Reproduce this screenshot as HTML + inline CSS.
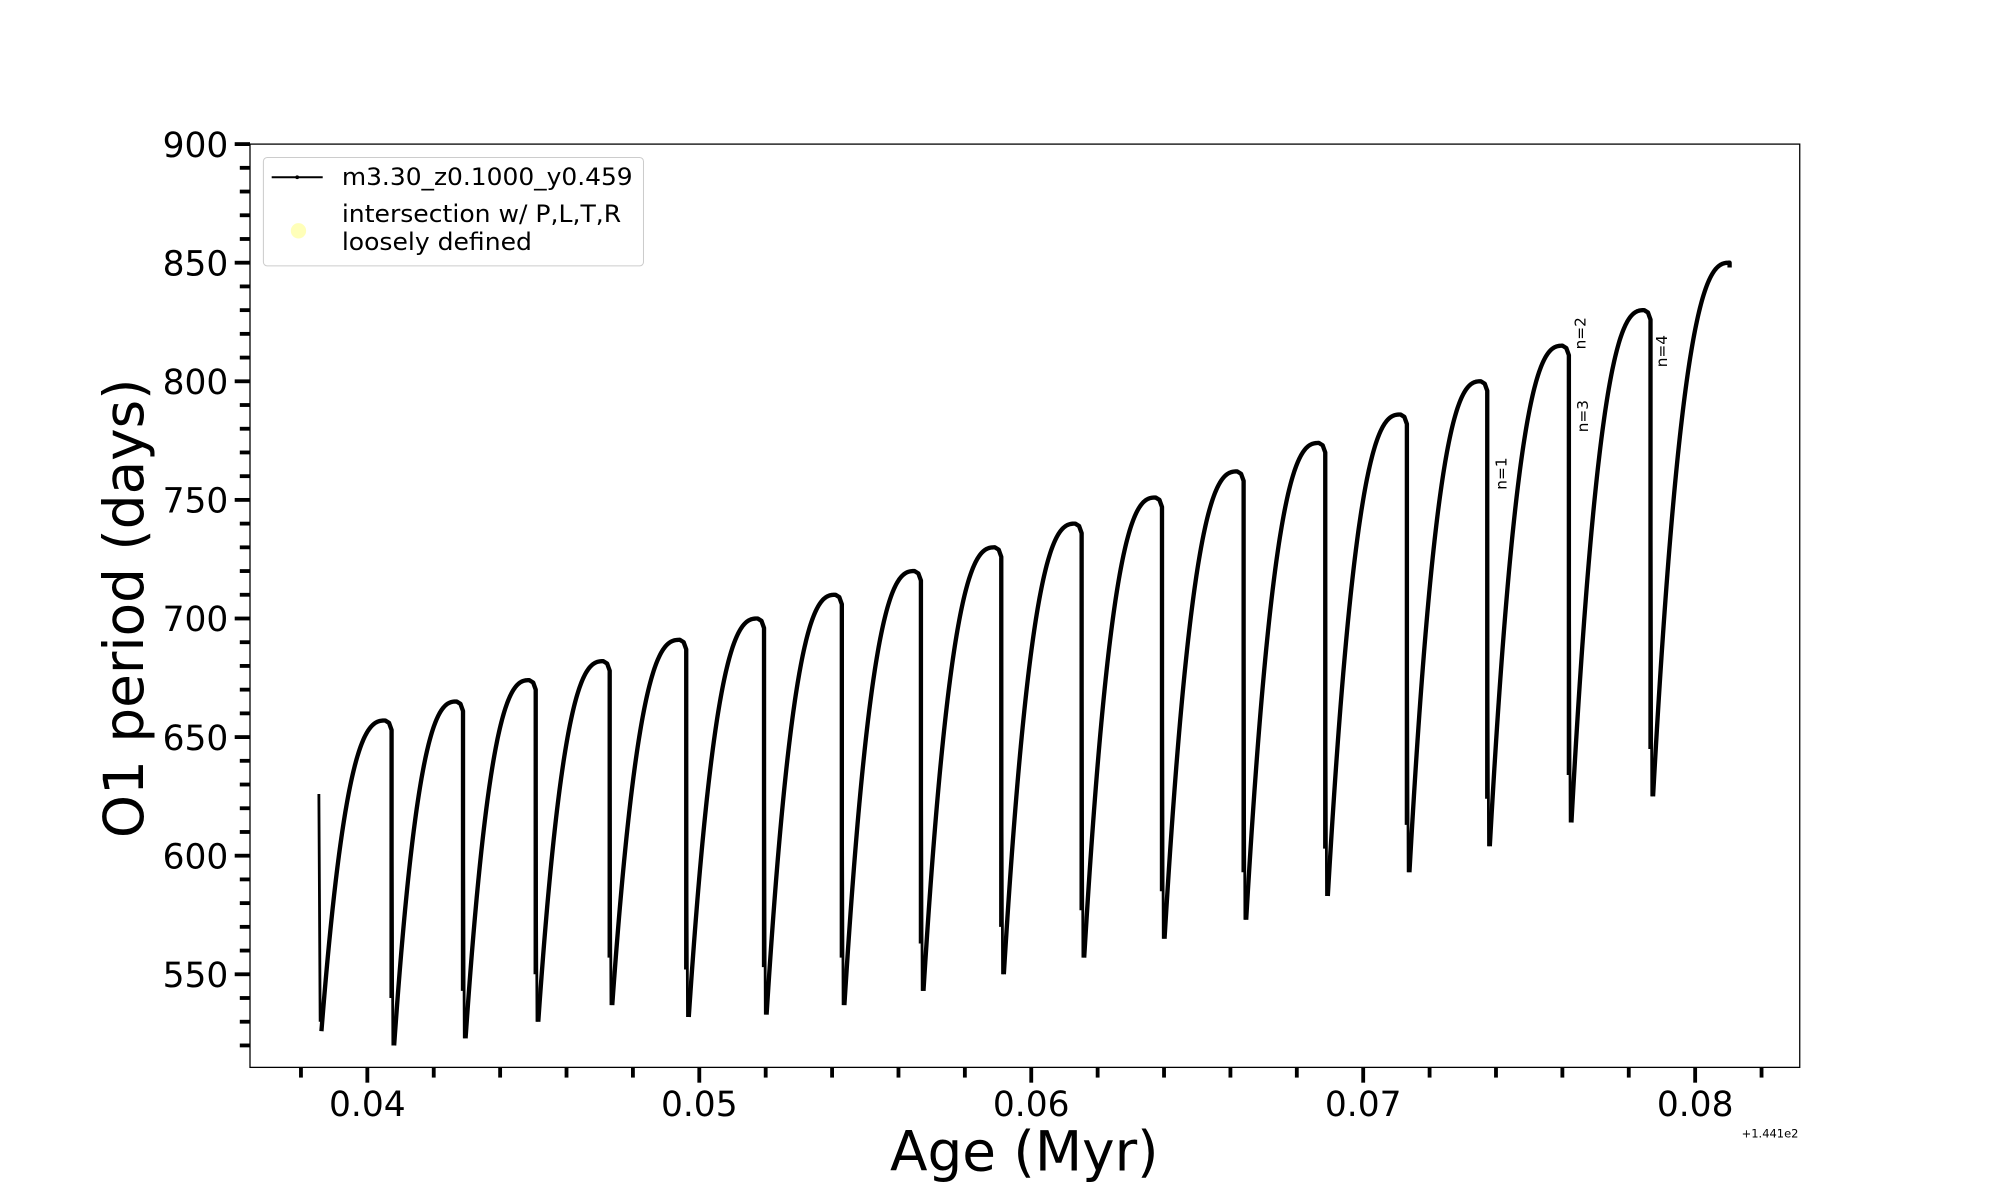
<!DOCTYPE html>
<html><head><meta charset="utf-8"><style>
html,body{margin:0;padding:0;background:#fff}
svg{display:block}
text{font-family:"DejaVu Sans","Liberation Sans",sans-serif;fill:#000}
</style></head><body>
<svg id="s" width="2000" height="1200" viewBox="0 0 1568 941" preserveAspectRatio="none" xmlns="http://www.w3.org/2000/svg">
<rect x="0" y="0" width="1568" height="941" fill="#fff"/>
<g id="ticks"></g>
<path id="curve" d="" fill="none" stroke="#000" stroke-width="3.4" stroke-linejoin="round"/>
<path id="drops" d="" fill="none" stroke="#000" stroke-width="2.2"/>
<rect x="196" y="113" width="1215" height="724" fill="none" stroke="#000" stroke-width="1"/>
<g font-size="12">
<text transform="translate(1181,384) rotate(-90)">n=1</text>
<text transform="translate(1243,274) rotate(-90)">n=2</text>
<text transform="translate(1245,339) rotate(-90)">n=3</text>
<text transform="translate(1307,288) rotate(-90)">n=4</text>
</g>
<rect x="206.5" y="123.5" width="298" height="85" rx="3" fill="#fff" fill-opacity="0.85" stroke="#ccc" stroke-width="0.8"/>
<line x1="213" y1="139" x2="253" y2="139" stroke="#000" stroke-width="1.5"/>
<circle cx="233" cy="139" r="1.5"/>
<circle cx="234" cy="181" r="6" fill="#ffffa8" fill-opacity="0.8"/>
<text x="268" y="145" font-size="19" textLength="228" lengthAdjust="spacingAndGlyphs">m3.30_z0.1000_y0.459</text>
<text x="268" y="174" font-size="19" textLength="219" lengthAdjust="spacingAndGlyphs">intersection w/ P,L,T,R</text>
<text x="268" y="196" font-size="19" textLength="149" lengthAdjust="spacingAndGlyphs">loosely defined</text>
<text transform="translate(112,477) rotate(-90)" font-size="43" text-anchor="middle">O1 period (days)</text>
<text x="803" y="918" font-size="43" text-anchor="middle">Age (Myr)</text>
<text x="1410" y="892" font-size="9" text-anchor="end">+1.441e2</text>
</svg>
<script>
function Y(v){return 113+(900-v)*1.86;}
var g=document.getElementById("ticks"),h="";
for(var v=520;v<=900;v+=10){var y=Y(v),maj=(v%50==0);
 h+='<line x1="'+(196-(maj?12:8))+'" y1="'+y+'" x2="196" y2="'+y+'" stroke="#000" stroke-width="3"/>';
 if(maj)h+='<text x="179" y="'+(y+10)+'" font-size="27" text-anchor="end">'+v+'</text>';}
for(var i=0;i<=23;i++){var xv=0.038+i*0.002;var x=288+(xv-0.04)*26025;if(x<197||x>1410)continue;
 var maj=(Math.abs((xv*100)-Math.round(xv*100))<1e-6);
 h+='<line x1="'+x+'" y1="837" x2="'+x+'" y2="'+(837+(maj?12:8))+'" stroke="#000" stroke-width="3"/>';
 if(maj)h+='<text x="'+x+'" y="875" font-size="27" text-anchor="middle">'+xv.toFixed(2)+'</text>';}
g.innerHTML=h;
var drops=[250,307,363,420,478,538,599,660,722,785,848,911,975,1039,1103,1166,1230,1294,1356];
var peaks=[657,665,674,682,691,700,710,720,730,740,751,762,774,786,800,815,830,850];
var mins=[526,520,523,530,537,532,533,537,543,550,557,565,573,583,593,604,614,625];
var d="",dd="";
for(var c=0;c<peaks.length;c++){
 var x0=drops[c]+2,x1=drops[c+1],m=mins[c],P=peaks[c],last=(c==peaks.length-1);
 var xe=last?x1:x1-5;
 d+="M"+(x0)+","+Y(m);
 for(var k=1;k<=80;k++){var t=k/80;var v=m+(P-m)*(1-Math.pow(1-t,2.6));d+=" L"+(x0+(xe-x0)*t).toFixed(2)+","+Y(v).toFixed(2);}
 if(!last){d+=" L"+(x1-2)+","+Y(P-1)+" L"+x1+","+Y(P-4);
  d+=" L"+x1+","+Y(mins[c+1]+20);}
 else{d+=" L"+(x1)+","+Y(P-2);}
}
dd+="M"+250+","+Y(626)+" L"+251+","+Y(530);
for(var c=1;c<drops.length-1;c++){dd+=" M"+drops[c]+","+Y(peaks[c-1]-4)+" L"+(drops[c]+1)+","+Y(mins[c]);}
document.getElementById("curve").setAttribute("d",d);
document.getElementById("drops").setAttribute("d",dd);
</script>
</body></html>
